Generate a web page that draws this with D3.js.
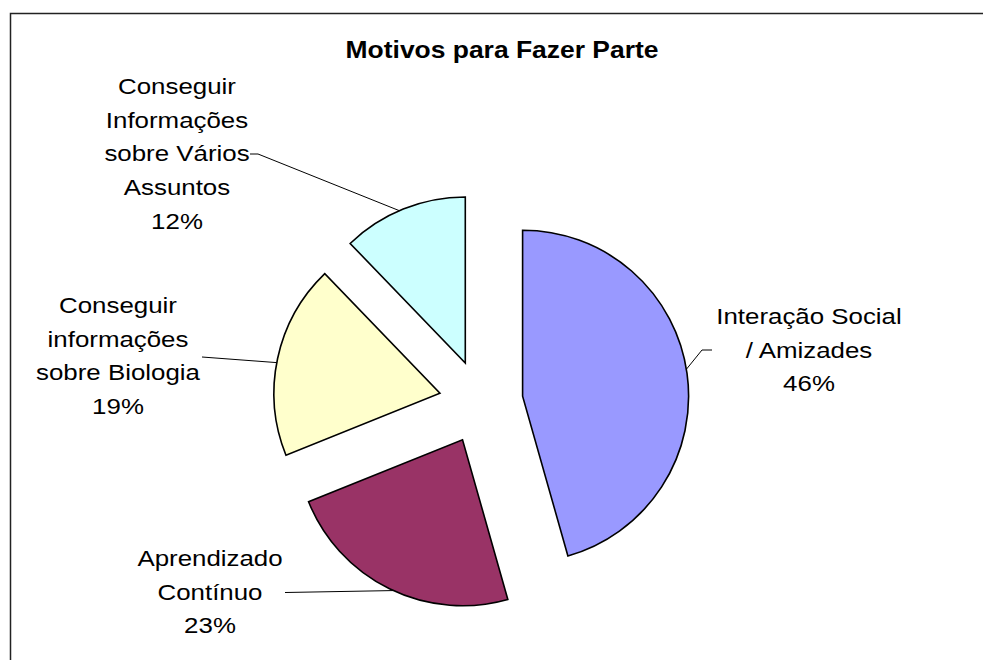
<!DOCTYPE html>
<html>
<head>
<meta charset="utf-8">
<script src="https://cdn.jsdelivr.net/npm/d3@7"></script>
<style>
  body { margin: 0; background: #fff; }
  text { font-family: Arial, "Liberation Sans", sans-serif; fill: #000; }
</style>
</head>
<body>
<div id="pie"></div>
<script>
// chart data
var categories = ["Interação Social / Amizades", "Aprendizado Contínuo", "Conseguir informações sobre Biologia", "Conseguir Informações sobre Vários Assuntos"];
var labelLines = [["Interação Social", "/ Amizades"], ["Aprendizado", "Contínuo"], ["Conseguir", "informações", "sobre Biologia"], ["Conseguir", "Informações", "sobre Vários", "Assuntos"]];
var values = [45.6, 23.3, 18.9, 12.2];
var colors = ["#9999FF", "#993366", "#FFFFCC", "#CCFFFF"];
var title = "Motivos para Fazer Parte";

// label layout (centre x, first line y, leader start, optional elbow)
var labelLayout = [
  {x: 809, y: 316, start: [712, 350], elbow: [702, 350]},
  {x: 210, y: 558, start: [285, 592.5], elbow: null},
  {x: 118, y: 305, start: [202, 357], elbow: null},
  {x: 177, y: 86, start: [250, 154], elbow: [258, 154]}
];

var width = 983,
    height = 660,
    cx = 481,
    cy = 402,
    radius = 166,
    explode = 42,
    lineGap = 33.7,
    stretch = 1.15;

var svg = d3.select("#pie")
            .append("svg")
            .attr("width", width)
            .attr("height", height);

// chart frame
svg.append("rect")
   .attr("x", 10.5)
   .attr("y", 13.5)
   .attr("width", width)
   .attr("height", height)
   .style("fill", "none")
   .style("stroke", "#222")
   .style("stroke-width", 1.5);

// title
svg.append("text")
   .attr("transform", "translate(502," + 50 + ") scale(" + stretch + ",1)")
   .attr("dy", "0.35em")
   .style("text-anchor", "middle")
   .style("font-weight", "bold")
   .style("font-size", "23px")
   .text(title);

var pie = d3.pie()
            .sort(null)
            .value(function(d) { return d; });

var arc = d3.arc()
            .innerRadius(0)
            .outerRadius(radius);

var arcs = pie(values);
var pct = d3.format(".0%");
var total = d3.sum(values);

function offset(d) {
  var mid = (d.startAngle + d.endAngle) / 2;
  return [cx + Math.sin(mid) * explode, cy - Math.cos(mid) * explode];
}

// exploded slices
svg.selectAll(".slice")
   .data(arcs)
   .enter()
   .append("path")
   .attr("class", "slice")
   .attr("transform", function(d) {
     var o = offset(d);
     return "translate(" + o[0] + "," + o[1] + ")";
   })
   .attr("d", arc)
   .style("fill", function(d, i) { return colors[i]; })
   .style("stroke", "#000")
   .style("stroke-width", 1.6)
   .style("stroke-linejoin", "miter");

// leader lines to the slice edge
svg.selectAll(".leader")
   .data(arcs)
   .enter()
   .append("path")
   .attr("class", "leader")
   .attr("d", function(d, i) {
     var o = offset(d),
         mid = (d.startAngle + d.endAngle) / 2 - 0.025,
         ex = o[0] + Math.sin(mid) * radius,
         ey = o[1] - Math.cos(mid) * radius,
         l = labelLayout[i],
         p = d3.path();
     p.moveTo(l.start[0], l.start[1]);
     if (l.elbow) p.lineTo(l.elbow[0], l.elbow[1]);
     p.lineTo(ex, ey);
     return p.toString();
   })
   .style("fill", "none")
   .style("stroke", "#000")
   .style("stroke-width", 1);

// data labels
arcs.forEach(function(d, i) {
  var l = labelLayout[i],
      lines = labelLines[i].concat([pct(d.value / total)]);
  lines.forEach(function(t, j) {
    svg.append("text")
       .attr("transform", "translate(" + l.x + "," + (l.y + j * lineGap) + ") scale(" + stretch + ",1)")
       .attr("dy", "0.35em")
       .style("text-anchor", "middle")
       .style("font-size", "22.5px")
       .text(t);
  });
});
</script>
</body>
</html>
